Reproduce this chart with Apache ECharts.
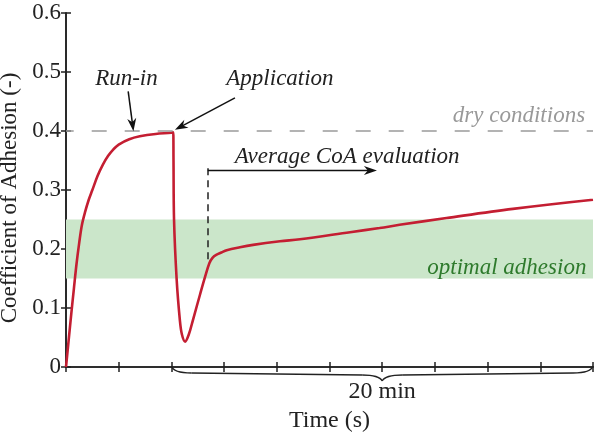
<!DOCTYPE html>
<html><head><meta charset="utf-8">
<script src="https://cdn.jsdelivr.net/npm/echarts@6/dist/echarts.min.js"></script>
<style>html,body{margin:0;padding:0;background:#fff}#c{width:595px;height:433px}</style>
</head><body><div id="c"></div>
<script>
// ---- data (time in axis tick units, CoA values) ----
const time = [0, 0.05, 0.1, 0.15, 0.2, 0.25, 0.3, 0.36, 0.43, 0.5, 0.6, 0.7, 0.8, 0.9, 1.0, 1.2, 1.4, 1.7, 2.0, 2.035,
  2.04, 2.05, 2.10, 2.16, 2.20, 2.26, 2.33, 2.41, 2.55, 2.64, 2.72, 2.78, 2.85, 2.95, 3.05, 3.3, 3.55,
  4.06, 4.44, 5.39, 5.95, 6.33, 7.22, 8.48, 10];
const coa = [0, 0.045, 0.09, 0.133, 0.175, 0.21, 0.24, 0.262, 0.283, 0.3, 0.324, 0.343, 0.358, 0.369, 0.377, 0.386, 0.391, 0.395, 0.397, 0.398,
  0.35, 0.25, 0.148, 0.08, 0.055, 0.043, 0.055, 0.08, 0.125, 0.153, 0.176, 0.185, 0.19, 0.194, 0.198, 0.203, 0.207,
  0.213, 0.2165, 0.2285, 0.2355, 0.241, 0.2525, 0.268, 0.2835];
const yTicks = [0, 0.1, 0.2, 0.3, 0.4, 0.5, 0.6];
const xRange = [0, 10];
const dryLevel = 0.4;
const optimalRange = [0.15, 0.25];
const evalStart = 2.69;
const evalTop = 0.337;
const evalCurve = 0.177;
const braceRange = [2.0, 10];
const labels = {
  runIn: 'Run-in', application: 'Application', average: 'Average CoA evaluation',
  dry: 'dry conditions', optimal: 'optimal adhesion', span: '20 min',
  xName: 'Time (s)', yName: 'Coefficient of Adhesion (-)'
};
// annotation anchors in data coordinates
const textAnchors = [
  {key: 'runIn', at: [1.147, 0.489], align: 'center', color: '#222'},
  {key: 'application', at: [4.06, 0.489], align: 'center', color: '#222'},
  {key: 'average', at: [5.335, 0.3565], align: 'center', color: '#222'},
  {key: 'dry', at: [9.85, 0.425], align: 'right', color: '#999'},
  {key: 'optimal', at: [9.875, 0.168], align: 'right', color: '#2e7a2c'}
];
const arrows = [
  {from: [1.18, 0.467], to: [1.28, 0.3995]},
  {from: [3.206, 0.456], to: [2.067, 0.402]},
  {from: [2.69, 0.333], to: [5.9, 0.333]}
];

const FONT = '"Liberation Serif", "Times New Roman", serif';
const chart = echarts.init(document.getElementById('c'), null, {renderer: 'canvas'});
const axisLine = {lineStyle: {color: '#222', width: 1.6}};
const tick = {inside: true, length: 5, lineStyle: {color: '#222', width: 1.5}};
const option = {
  animation: false,
  grid: {left: 66, right: 2, top: 13, bottom: 66, containLabel: false, outerBoundsMode: 'none'},
  xAxis: [
    {type: 'value', min: xRange[0], max: xRange[1], interval: 1, axisLine, axisTick: tick,
     axisLabel: {show: false}, splitLine: {show: false},
     name: labels.xName, nameLocation: 'middle', nameGap: 42,
     nameTextStyle: {fontFamily: FONT, fontSize: 24, color: '#222'}},
    {type: 'value', position: 'top', min: xRange[0], max: xRange[1], interval: 1, axisLine, axisTick: tick,
     axisLabel: {show: false}, splitLine: {show: false}}
  ],
  yAxis: [
    {type: 'value', min: yTicks[0], max: yTicks[yTicks.length - 1], interval: 0.1, axisLine, axisTick: tick,
     splitLine: {show: false},
     axisLabel: {margin: 5, fontFamily: FONT, fontSize: 23, color: '#222',
       formatter: v => v === 0 ? '0' : v.toFixed(1)},
     name: labels.yName, nameLocation: 'middle', nameGap: 42, nameRotate: 90,
     nameTextStyle: {fontFamily: FONT, fontSize: 23, color: '#222', padding: [0, 16, 0, 0]}},
    {type: 'value', position: 'right', min: yTicks[0], max: yTicks[yTicks.length - 1], interval: 0.1,
     axisLine, axisTick: tick, axisLabel: {show: false}, splitLine: {show: false}}
  ],
  series: [{
    type: 'line', name: 'CoA', data: time.map((t, i) => [t, coa[i]]),
    showSymbol: false, smooth: 0.35,
    lineStyle: {color: '#c41e32', width: 2.6}, z: 3,
    markArea: {silent: true, itemStyle: {color: '#cbe6ca', opacity: 1},
      data: [[{yAxis: optimalRange[0]}, {yAxis: optimalRange[1]}]]},
    markLine: {silent: true, symbol: 'none', label: {show: false}, animation: false,
      data: [
        [{coord: [xRange[0], dryLevel], lineStyle: {color: '#9a9a9a', width: 1.5, type: [15, 18], dashOffset: 7.3}},
         {coord: [xRange[1], dryLevel]}],
        [{coord: [evalStart, evalTop], lineStyle: {color: '#222', width: 1.5, type: [7, 5]}},
         {coord: [evalStart, evalCurve]}]
      ]}
  }]
};
chart.setOption(option);

const px = p => chart.convertToPixel({gridIndex: 0}, p);
const g = [];
textAnchors.forEach(a => {
  const p = px(a.at);
  g.push({type: 'text', x: p[0], y: p[1], silent: true, z: 50,
    style: {text: labels[a.key], font: 'italic 23px ' + FONT, fill: a.color,
      textAlign: a.align, textVerticalAlign: 'middle'}});
});
arrows.forEach(a => {
  const f = px(a.from), t = px(a.to);
  const dx = t[0] - f[0], dy = t[1] - f[1], len = Math.hypot(dx, dy);
  const ux = dx / len, uy = dy / len, nx = -uy, ny = ux;
  const L = 13, W = 4.5;
  const bx = t[0] - L * ux, by = t[1] - L * uy;
  g.push({type: 'line', silent: true, z: 50,
    shape: {x1: f[0], y1: f[1], x2: t[0] - 0.6 * L * ux, y2: t[1] - 0.6 * L * uy},
    style: {stroke: '#111', lineWidth: 1.5}});
  g.push({type: 'polygon', silent: true, z: 50,
    shape: {points: [[t[0], t[1]], [bx + W * nx, by + W * ny], [t[0] - 0.7 * L * ux, t[1] - 0.7 * L * uy], [bx - W * nx, by - W * ny]]},
    style: {fill: '#111'}});
});
// brace below the x axis
const b0 = px([braceRange[0], 0]), b1 = px([braceRange[1], 0]);
const y0 = b0[1], x1 = b0[0], x2 = b1[0], xc = (x1 + x2) / 2;
const bs = {stroke: '#222', lineWidth: 1.3, fill: null};
g.push({type: 'bezierCurve', silent: true, shape: {x1: x1, y1: y0 - 1, cpx1: x1 + 2, cpy1: y0 + 6, x2: x1 + 20, y2: y0 + 6}, style: bs});
g.push({type: 'line', silent: true, shape: {x1: x1 + 20, y1: y0 + 6, x2: xc - 20, y2: y0 + 8}, style: bs});
g.push({type: 'bezierCurve', silent: true, shape: {x1: xc - 20, y1: y0 + 8, cpx1: xc - 3, cpy1: y0 + 8, x2: xc, y2: y0 + 14}, style: bs});
g.push({type: 'bezierCurve', silent: true, shape: {x1: xc, y1: y0 + 14, cpx1: xc + 3, cpy1: y0 + 8, x2: xc + 20, y2: y0 + 8}, style: bs});
g.push({type: 'line', silent: true, shape: {x1: xc + 20, y1: y0 + 8, x2: x2 - 20, y2: y0 + 6}, style: bs});
g.push({type: 'bezierCurve', silent: true, shape: {x1: x2 - 20, y1: y0 + 6, cpx1: x2 - 2, cpy1: y0 + 6, x2: x2, y2: y0 - 1}, style: bs});
g.push({type: 'text', silent: true, x: xc, y: y0 + 25,
  style: {text: labels.span, font: '24px ' + FONT, fill: '#222', textAlign: 'center', textVerticalAlign: 'middle'}});
chart.setOption({graphic: {elements: g}});
</script>
</body></html>
